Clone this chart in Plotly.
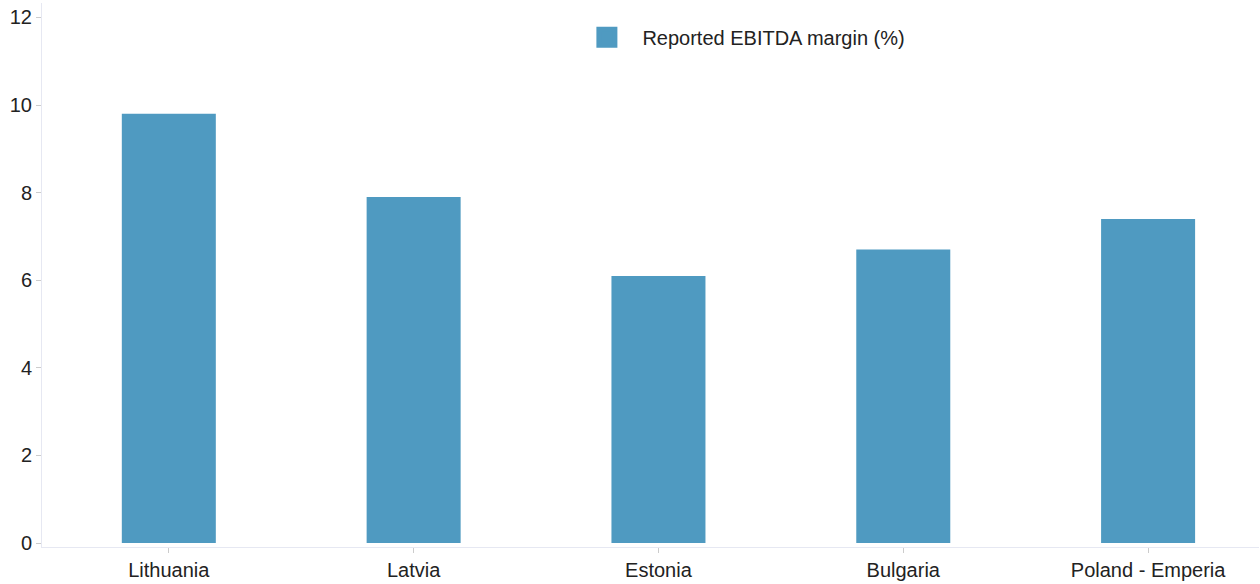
import plotly.graph_objects as go

categories = ["Lithuania", "Latvia", "Estonia", "Bulgaria", "Poland - Emperia"]
ebitda_margin = [9.8, 7.9, 6.1, 6.7, 7.4]
series_name = "Reported EBITDA margin (%)"
y_ticks = [0, 2, 4, 6, 8, 10, 12]

BAR_COLOR = "#4f9ac1"
FONT = "Liberation Sans, Arial, sans-serif"

fig = go.Figure()
fig.add_trace(go.Bar(
    x=categories, y=ebitda_margin, name=series_name,
    marker=dict(color=BAR_COLOR, line=dict(width=0)),
    width=0.384, showlegend=False,
))
fig.add_trace(go.Scatter(
    x=[None], y=[None], mode="markers", name=series_name,
    marker=dict(symbol="square", size=22, color=BAR_COLOR,
                line=dict(width=6, color=BAR_COLOR)),
    showlegend=True,
))

fig.update_layout(
    width=1260, height=584,
    margin=dict(l=42, r=1, t=3, b=37),
    paper_bgcolor="white", plot_bgcolor="white",
    font=dict(family=FONT, size=20, color="#222222"),
    legend=dict(
        x=0.435, y=0.973, xanchor="left", yanchor="top",
        bgcolor="rgba(0,0,0,0)", font=dict(size=20, color="#222222"),
        itemsizing="trace", itemwidth=61,
    ),
    xaxis=dict(
        range=[-0.518, 4.453], showgrid=False, zeroline=False,
        showline=True, linecolor="#e6e8f2", linewidth=1,
        ticks="outside", ticklen=5, tickcolor="#cccccc", tickwidth=1,
        tickfont=dict(size=20, color="#222222"),
    ),
    yaxis=dict(
        range=[-0.09, 12.33], showgrid=False, zeroline=False,
        showline=True, linecolor="#e6e8f2", linewidth=1,
        tickvals=y_ticks, ticks="outside", ticklen=5, tickcolor="#cccccc", tickwidth=1,
        tickfont=dict(size=20, color="#222222"),
    ),
    bargap=0.6,
)

fig.write_html(
    "out.html",
    config={"displayModeBar": False},
    post_script="document.body.style.margin='0';document.documentElement.style.overflow='hidden';",
)
